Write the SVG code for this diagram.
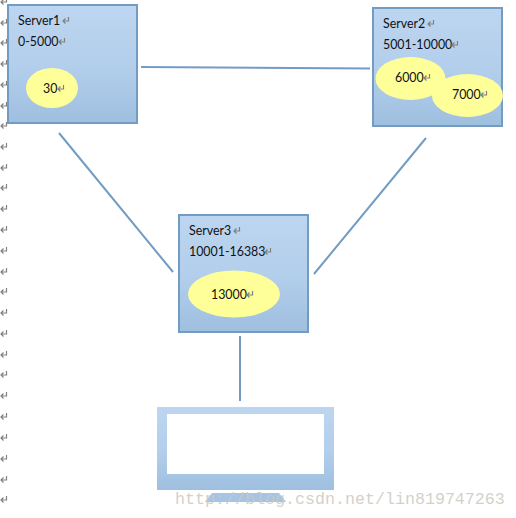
<svg xmlns="http://www.w3.org/2000/svg" width="516" height="518" viewBox="0 0 516 518">
<style>
text{font-family:Lato,"Open Sans","Liberation Sans",sans-serif;font-size:12.400px;fill:#111}
.box{fill:url(#g);stroke:#739cc3;stroke-width:2}
.e{fill:#ffff99}
.c{fill:none;stroke:#739cc3;stroke-width:2}
.p{fill:none;stroke:#808080;stroke-width:1.200}
text.w{font-family:"Liberation Mono",monospace;font-size:16.670px;fill:#c9c9c2;fill-opacity:.85}
</style>
<defs>
<linearGradient id="g" x1="0" y1="0" x2="0" y2="1"><stop offset="0" stop-color="#bdd5f0"/><stop offset="0.5" stop-color="#b3cfec"/><stop offset="1" stop-color="#9fbfe0"/></linearGradient>
<path id="r" d="M6.500 0v4h-5.500M3.500 1.500l-2.500 2.500 2.500 2.500" class="p"/>
</defs>
<g id="marks">
<use href="#r" x="0" y="-2"/><use href="#r" x="0" y="19"/><use href="#r" x="0" y="39"/><use href="#r" x="0" y="60"/><use href="#r" x="0" y="81"/><use href="#r" x="0" y="102"/><use href="#r" x="0" y="122"/><use href="#r" x="0" y="143"/><use href="#r" x="0" y="164"/><use href="#r" x="0" y="184"/><use href="#r" x="0" y="205"/><use href="#r" x="0" y="226"/><use href="#r" x="0" y="247"/><use href="#r" x="0" y="268"/><use href="#r" x="0" y="288"/><use href="#r" x="0" y="309"/><use href="#r" x="0" y="330"/><use href="#r" x="0" y="351"/><use href="#r" x="0" y="371"/><use href="#r" x="0" y="392"/><use href="#r" x="0" y="413"/><use href="#r" x="0" y="434"/><use href="#r" x="0" y="455"/><use href="#r" x="0" y="476"/><use href="#r" x="0" y="496"/>
</g>
<g id="connectors">
<path class="c" d="M141 67L370 68.500"/>
<path class="c" d="M59 133L173 272"/>
<path class="c" d="M426 138L314 274"/>
<path class="c" d="M240 336V401"/>
</g>
<g id="server1">
<rect class="box" x="8" y="5" width="129" height="118"/>
<text x="18" y="25">Server1</text><use href="#r" x="62" y="17"/>
<text x="18" y="46">0-5000</text><use href="#r" x="58" y="38"/>
<ellipse class="e" cx="52" cy="88" rx="26" ry="20"/>
<text x="43" y="93">30</text><use href="#r" x="57" y="85"/>
</g>
<g id="server2">
<rect class="box" x="373" y="8" width="129" height="118"/>
<text x="383" y="28">Server2</text><use href="#r" x="427" y="20"/>
<text x="383" y="49">5001-10000</text><use href="#r" x="451" y="41"/>
<ellipse class="e" cx="410.500" cy="78.500" rx="35" ry="21.500"/>
<ellipse class="e" cx="467.500" cy="95.500" rx="35.500" ry="21.500"/>
<text x="395" y="82">6000</text><use href="#r" x="423" y="74"/>
<text x="452" y="99">7000</text><use href="#r" x="480" y="91"/>
</g>
<g id="server3">
<rect class="box" x="179" y="215" width="129" height="117"/>
<text x="189" y="235">Server3</text><use href="#r" x="233" y="227"/>
<text x="189" y="256">10001-16383</text><use href="#r" x="264" y="248"/>
<ellipse class="e" cx="234" cy="294" rx="46" ry="23.500"/>
<text x="211" y="299">13000</text><use href="#r" x="246" y="291"/>
</g>
<g id="monitor">
<rect x="157" y="407" width="177" height="83" fill="url(#g)"/>
<rect x="167" y="414" width="157" height="60" fill="#fff"/>
<path d="M205 502L286 502L279 493L212 493Z" fill="#a6c4e4"/>
</g>
<text class="w" x="175" y="504">http://blog.csdn.net/lin819747263</text>
</svg>
